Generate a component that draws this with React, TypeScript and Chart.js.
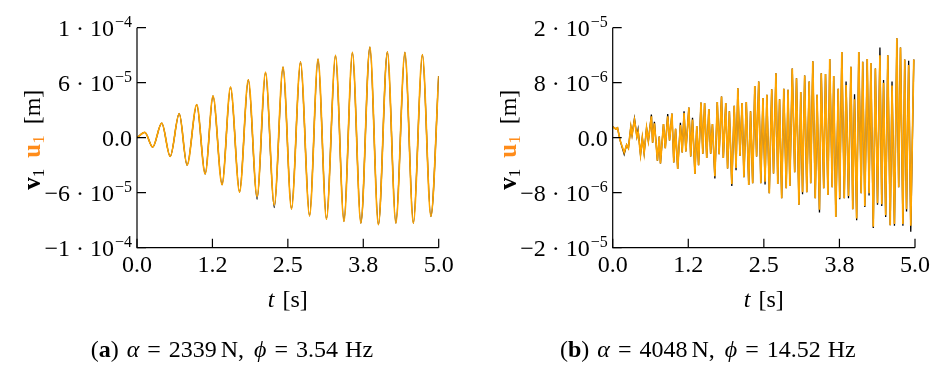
import React, { useEffect, useRef } from 'react';
import { Chart, registerables } from 'chart.js';
Chart.register(...registerables);

// ---------- data ----------
// Panel (a): time [s] and displacement [1e-5 m] at turning points
const timeA = [0, 0.13, 0.26, 0.41, 0.55, 0.70, 0.83, 0.99, 1.13, 1.26, 1.41, 1.55, 1.70, 1.845, 1.99, 2.13, 2.275, 2.42, 2.56, 2.71, 2.86, 3.0, 3.14, 3.29, 3.43, 3.57, 3.71, 3.86, 4.0, 4.15, 4.29, 4.44, 4.58, 4.73, 4.87, 5.0];
const orangeA = [0, 0.48, -0.85, 1.33, -1.7, 2.18, -2.5, 3.0, -3.3, 3.8, -4.27, 4.6, -4.94, 5.27, -5.33, 5.94, -6.1, 6.42, -6.48, 6.88, -7.1, 7.15, -7.4, 7.48, -7.6, 7.76, -7.76, 8.24, -7.9, 7.8, -7.76, 7.76, -7.76, 7.55, -7.15, 5.6];
const blackA = [0, 0.48, -0.85, 1.33, -1.7, 2.18, -2.5, 3.0, -3.3, 3.8, -4.27, 4.6, -4.94, 5.27, -5.6, 5.94, -6.35, 6.42, -6.48, 6.88, -7.1, 7.15, -7.4, 7.48, -7.6, 7.76, -7.76, 8.24, -7.9, 7.8, -7.76, 7.76, -7.76, 7.55, -7.15, 5.6];

// Panel (b): time [s] and displacement [1e-6 m] at turning points
const timeB = [0.0, 0.05, 0.08, 0.12, 0.19, 0.23, 0.26, 0.30, 0.32, 0.36, 0.40, 0.42, 0.46, 0.49, 0.52, 0.56, 0.59, 0.64, 0.66, 0.69, 0.74, 0.77, 0.79, 0.84, 0.87, 0.91, 0.94, 0.98, 1.01, 1.04, 1.075, 1.12, 1.15, 1.18, 1.21, 1.26, 1.29, 1.32, 1.36, 1.39, 1.42, 1.46, 1.49, 1.52, 1.555, 1.59, 1.62, 1.65, 1.69, 1.73, 1.76, 1.80, 1.83, 1.87, 1.90, 1.93, 1.97, 2.01, 2.04, 2.07, 2.105, 2.14, 2.17, 2.21, 2.25, 2.28, 2.315, 2.35, 2.38, 2.415, 2.45, 2.485, 2.52, 2.55, 2.59, 2.63, 2.66, 2.70, 2.73, 2.76, 2.795, 2.83, 2.87, 2.90, 2.93, 2.97, 3.01, 3.04, 3.08, 3.11, 3.14, 3.175, 3.21, 3.25, 3.275, 3.31, 3.35, 3.38, 3.42, 3.45, 3.49, 3.52, 3.56, 3.59, 3.63, 3.655, 3.69, 3.73, 3.755, 3.79, 3.83, 3.86, 3.90, 3.94, 3.97, 4.0, 4.035, 4.07, 4.11, 4.135, 4.17, 4.21, 4.24, 4.27, 4.31, 4.345, 4.38, 4.42, 4.45, 4.48, 4.515, 4.55, 4.59, 4.62, 4.66, 4.70, 4.73, 4.76, 4.80, 4.83, 4.86, 4.895, 4.93, 4.98];
const orangeB = [2.0, 1.6, 1.8, -0.4, -2.7, -1.3, -1.9, 2.0, 0.5, 3.2, 0.2, 1.1, -3.1, 0.0, -2.8, 1.8, -0.6, 3.9, -0.9, 2.6, -4.2, 0.2, -4.7, 2.5, -1.9, 3.9, -0.5, 4.4, -4.5, 1.6, -5.7, 2.3, -2.7, 4.5, -2.5, 5.5, -3.4, 3.3, -6.6, 2.1, -5.0, 6.4, -2.9, 6.3, -3.7, 5.2, -2.9, 2.5, -7.0, 6.5, -3.0, 7.5, -3.7, 6.3, -5.6, 4.8, -8.4, 5.8, -5.5, 9.0, -3.3, 6.3, -7.2, 6.5, -8.6, 4.8, -8.3, 9.4, -3.4, 10.2, -8.3, 7.2, -8.0, 7.8, -10.1, 8.8, -6.5, 11.7, -8.4, 7.0, -11.0, 8.9, -9.2, 8.7, -8.8, 12.6, -6.3, 10.8, -12.2, 8.3, -9.9, 11.3, -9.9, 10.2, -8.3, 13.9, -11.0, 7.8, -13.1, 11.7, -9.2, 11.6, -10.4, 14.3, -9.0, 11.2, -14.4, 8.9, -11.0, 15.6, -11.0, 9.6, -10.6, 12.9, -13.0, 7.0, -14.7, 15.6, -10.1, 13.8, -12.4, 14.3, -10.1, 13.6, -16.2, 12.6, -11.9, 15.0, -12.1, 10.0, -14.1, 15.0, -15.9, 9.5, -15.7, 18.1, -9.0, 16.4, -15.7, 14.2, -13.0, 13.2, -16.0, 14.2];
const blackB = [2.0, 1.6, 1.8, -0.4, -3.0, -1.3, -1.9, 2.0, 0.5, 3.5, 0.2, 1.5, -3.1, 0.0, -2.8, 1.8, -0.6, 4.2, -0.9, 2.9, -4.2, 0.2, -4.7, 2.5, -1.9, 4.3, -0.5, 4.4, -4.5, 1.6, -5.7, 2.7, -2.7, 4.8, -2.5, 5.5, -3.4, 3.6, -6.6, 2.1, -5.0, 6.4, -2.9, 6.3, -3.7, 5.2, -2.9, 2.5, -7.4, 6.5, -3.0, 7.5, -3.7, 6.3, -5.6, 4.8, -8.8, 5.8, -5.9, 9.0, -3.3, 6.3, -7.2, 6.5, -8.6, 4.8, -8.3, 9.4, -3.4, 10.2, -8.3, 7.2, -8.5, 7.8, -10.1, 8.8, -6.5, 11.7, -8.4, 7.0, -11.0, 8.9, -9.2, 8.7, -8.8, 12.6, -6.3, 10.8, -12.2, 8.3, -10.3, 11.3, -9.9, 10.2, -8.3, 13.9, -11.0, 7.8, -13.6, 11.7, -9.2, 11.6, -10.4, 14.3, -9.0, 11.2, -14.4, 8.9, -11.2, 15.6, -11.0, 10.2, -11.0, 12.9, -13.0, 7.9, -15.0, 15.6, -10.1, 13.8, -12.6, 14.3, -10.5, 13.6, -16.4, 12.6, -12.2, 16.4, -12.4, 10.5, -14.4, 15.0, -15.9, 10.2, -16.0, 18.1, -9.0, 16.4, -16.0, 14.2, -13.4, 14.0, -17.1, 14.2];

// ticks
const xTickValues = [0, 1.25, 2.5, 3.75, 5];
const xTickLabels = ['0.0', '1.2', '2.5', '3.8', '5.0'];
const yTickValuesA = [-10, -5, 0, 5, 10];
const yTickLabelsA = [['−1 · 10', '−4'], ['−6 · 10', '−5'], ['0.0', ''], ['6 · 10', '−5'], ['1 · 10', '−4']];
const yTickValuesB = [-20, -10, 0, 10, 20];
const yTickLabelsB = [['−2 · 10', '−5'], ['−8 · 10', '−6'], ['0.0', ''], ['8 · 10', '−6'], ['2 · 10', '−5']];

const FONT = '"Liberation Serif", "Times New Roman", serif';
const ORANGE_LINE = '#FFA500';
const ORANGE_TEXT = '#FF8C1A';

type Run = { text: string; size?: number; weight?: string; style?: string; color?: string; dy?: number; gap?: number };

function fontOf(r: Run) {
  return `${r.style || 'normal'} ${r.weight || 'normal'} ${r.size || 24}px ${FONT}`;
}
function runsWidth(ctx: CanvasRenderingContext2D, runs: Run[]) {
  let w = 0;
  for (const r of runs) {
    ctx.font = fontOf(r);
    w += (r.gap || 0) + ctx.measureText(r.text).width;
  }
  return w;
}
function drawRuns(ctx: CanvasRenderingContext2D, runs: Run[], x: number, y: number, align: string) {
  const w = runsWidth(ctx, runs);
  let cx = align === 'left' ? x : align === 'center' ? x - w / 2 : x - w;
  ctx.textAlign = 'left';
  ctx.textBaseline = 'alphabetic';
  for (const r of runs) {
    cx += r.gap || 0;
    ctx.font = fontOf(r);
    ctx.fillStyle = r.color || '#000';
    ctx.fillText(r.text, cx, y + (r.dy || 0));
    cx += ctx.measureText(r.text).width;
  }
}

type PanelProps = {
  left: number;
  width: number;
  padLeft: number;
  padRight: number;
  time: number[];
  orange: number[];
  black: number[];
  yMin: number;
  yMax: number;
  yTicks: number[];
  yLabels: string[][];
  smooth: boolean;
  letter: string;
  alpha: string;
  phi: string;
};

function Panel(p: PanelProps) {
  const ref = useRef<HTMLCanvasElement>(null);
  useEffect(() => {
    const canvas = ref.current!;
    const plugin = {
      id: 'axesText',
      afterDraw(chart: any) {
        const ctx: CanvasRenderingContext2D = chart.ctx;
        const { left, right, top, bottom } = chart.chartArea;
        const xs = chart.scales.x;
        const ys = chart.scales.y;
        ctx.save();
        ctx.strokeStyle = '#000';
        ctx.lineWidth = 1.2;
        ctx.beginPath();
        ctx.moveTo(left, top);
        ctx.lineTo(left, bottom);
        ctx.lineTo(right, bottom);
        ctx.stroke();
        ctx.beginPath();
        p.yTicks.forEach((v) => {
          const py = ys.getPixelForValue(v);
          ctx.moveTo(left, py);
          ctx.lineTo(left + 9, py);
        });
        xTickValues.forEach((v) => {
          const px = xs.getPixelForValue(v);
          ctx.moveTo(px, bottom);
          ctx.lineTo(px, bottom - 9);
        });
        ctx.stroke();
        // y tick labels
        p.yTicks.forEach((v, i) => {
          const py = ys.getPixelForValue(v);
          const [m, e] = p.yLabels[i];
          const runs: Run[] = [{ text: m }];
          if (e) runs.push({ text: e, size: 16, dy: -9, gap: 1 });
          drawRuns(ctx, runs, left - 5, py + 8.5, 'right');
        });
        // x tick labels
        xTickValues.forEach((v, i) => {
          const px = xs.getPixelForValue(v);
          drawRuns(ctx, [{ text: xTickLabels[i] }], px, bottom + 24, 'center');
        });
        // x title
        drawRuns(ctx, [{ text: 't', style: 'italic' }, { text: '[s]', gap: 8 }], (left + right) / 2, bottom + 59, 'center');
        // y title
        ctx.save();
        ctx.translate(left - 97, (top + bottom) / 2 + 2);
        ctx.rotate(-Math.PI / 2);
        drawRuns(ctx, [
          { text: 'v', weight: 'bold', size: 25 },
          { text: '1', size: 17, dy: 4 },
          { text: 'u', weight: 'bold', size: 25, color: ORANGE_TEXT, gap: 11 },
          { text: '1', size: 17, dy: 4, color: ORANGE_TEXT },
          { text: '[m]', gap: 11 },
        ], 0, 0, 'center');
        ctx.restore();
        // caption
        drawRuns(ctx, [
          { text: '(' },
          { text: p.letter, weight: 'bold' },
          { text: ')' },
          { text: 'α', style: 'italic', gap: 8 },
          { text: '=', gap: 8 },
          { text: p.alpha, gap: 8 },
          { text: 'N', gap: 4 },
          { text: ',' },
          { text: 'ϕ', style: 'italic', gap: 10 },
          { text: '=', gap: 8 },
          { text: p.phi, gap: 8 },
          { text: 'Hz', gap: 7 },
        ], (left + right) / 2 - 56, 357, 'center');
        ctx.restore();
      },
    };
    const line = (vals: number[], color: string, width: number) => ({
      data: p.time.map((t, i) => ({ x: t, y: vals[i] })),
      borderColor: color,
      borderWidth: width,
      pointRadius: 0,
      fill: false,
      tension: 0,
      cubicInterpolationMode: p.smooth ? 'monotone' : 'default',
    });
    const chart = new Chart(canvas, {
      type: 'line',
      data: {
        datasets: [line(p.orange, ORANGE_LINE, 1.7) as any, line(p.black, '#000', 1.3) as any],
      },
      options: {
        animation: false,
        responsive: false,
        events: [],
        layout: { padding: { left: p.padLeft, right: p.padRight, top: 27.7, bottom: 119.3 } },
        plugins: { legend: { display: false }, tooltip: { enabled: false } },
        scales: {
          x: { type: 'linear', min: 0, max: 5, display: false },
          y: { type: 'linear', min: p.yMin, max: p.yMax, display: false },
        },
      },
      plugins: [plugin],
    } as any);
    return () => chart.destroy();
  }, []);
  return (
    <canvas
      ref={ref}
      width={p.width}
      height={367}
      style={{ position: 'absolute', left: p.left, top: 0, width: p.width, height: 367 }}
    />
  );
}

export default function App() {
  return (
    <div style={{ position: 'absolute', left: 0, top: 0, width: 935, height: 367, background: '#fff' }}>
      <Panel left={0} width={467} padLeft={137} padRight={28.3} time={timeA} orange={orangeA} black={blackA}
        yMin={-10} yMax={10} yTicks={yTickValuesA} yLabels={yTickLabelsA} smooth={true}
        letter="a" alpha="2339" phi="3.54" />
      <Panel left={467} width={468} padLeft={145.7} padRight={20} time={timeB} orange={orangeB} black={blackB}
        yMin={-20} yMax={20} yTicks={yTickValuesB} yLabels={yTickLabelsB} smooth={false}
        letter="b" alpha="4048" phi="14.52" />
    </div>
  );
}
